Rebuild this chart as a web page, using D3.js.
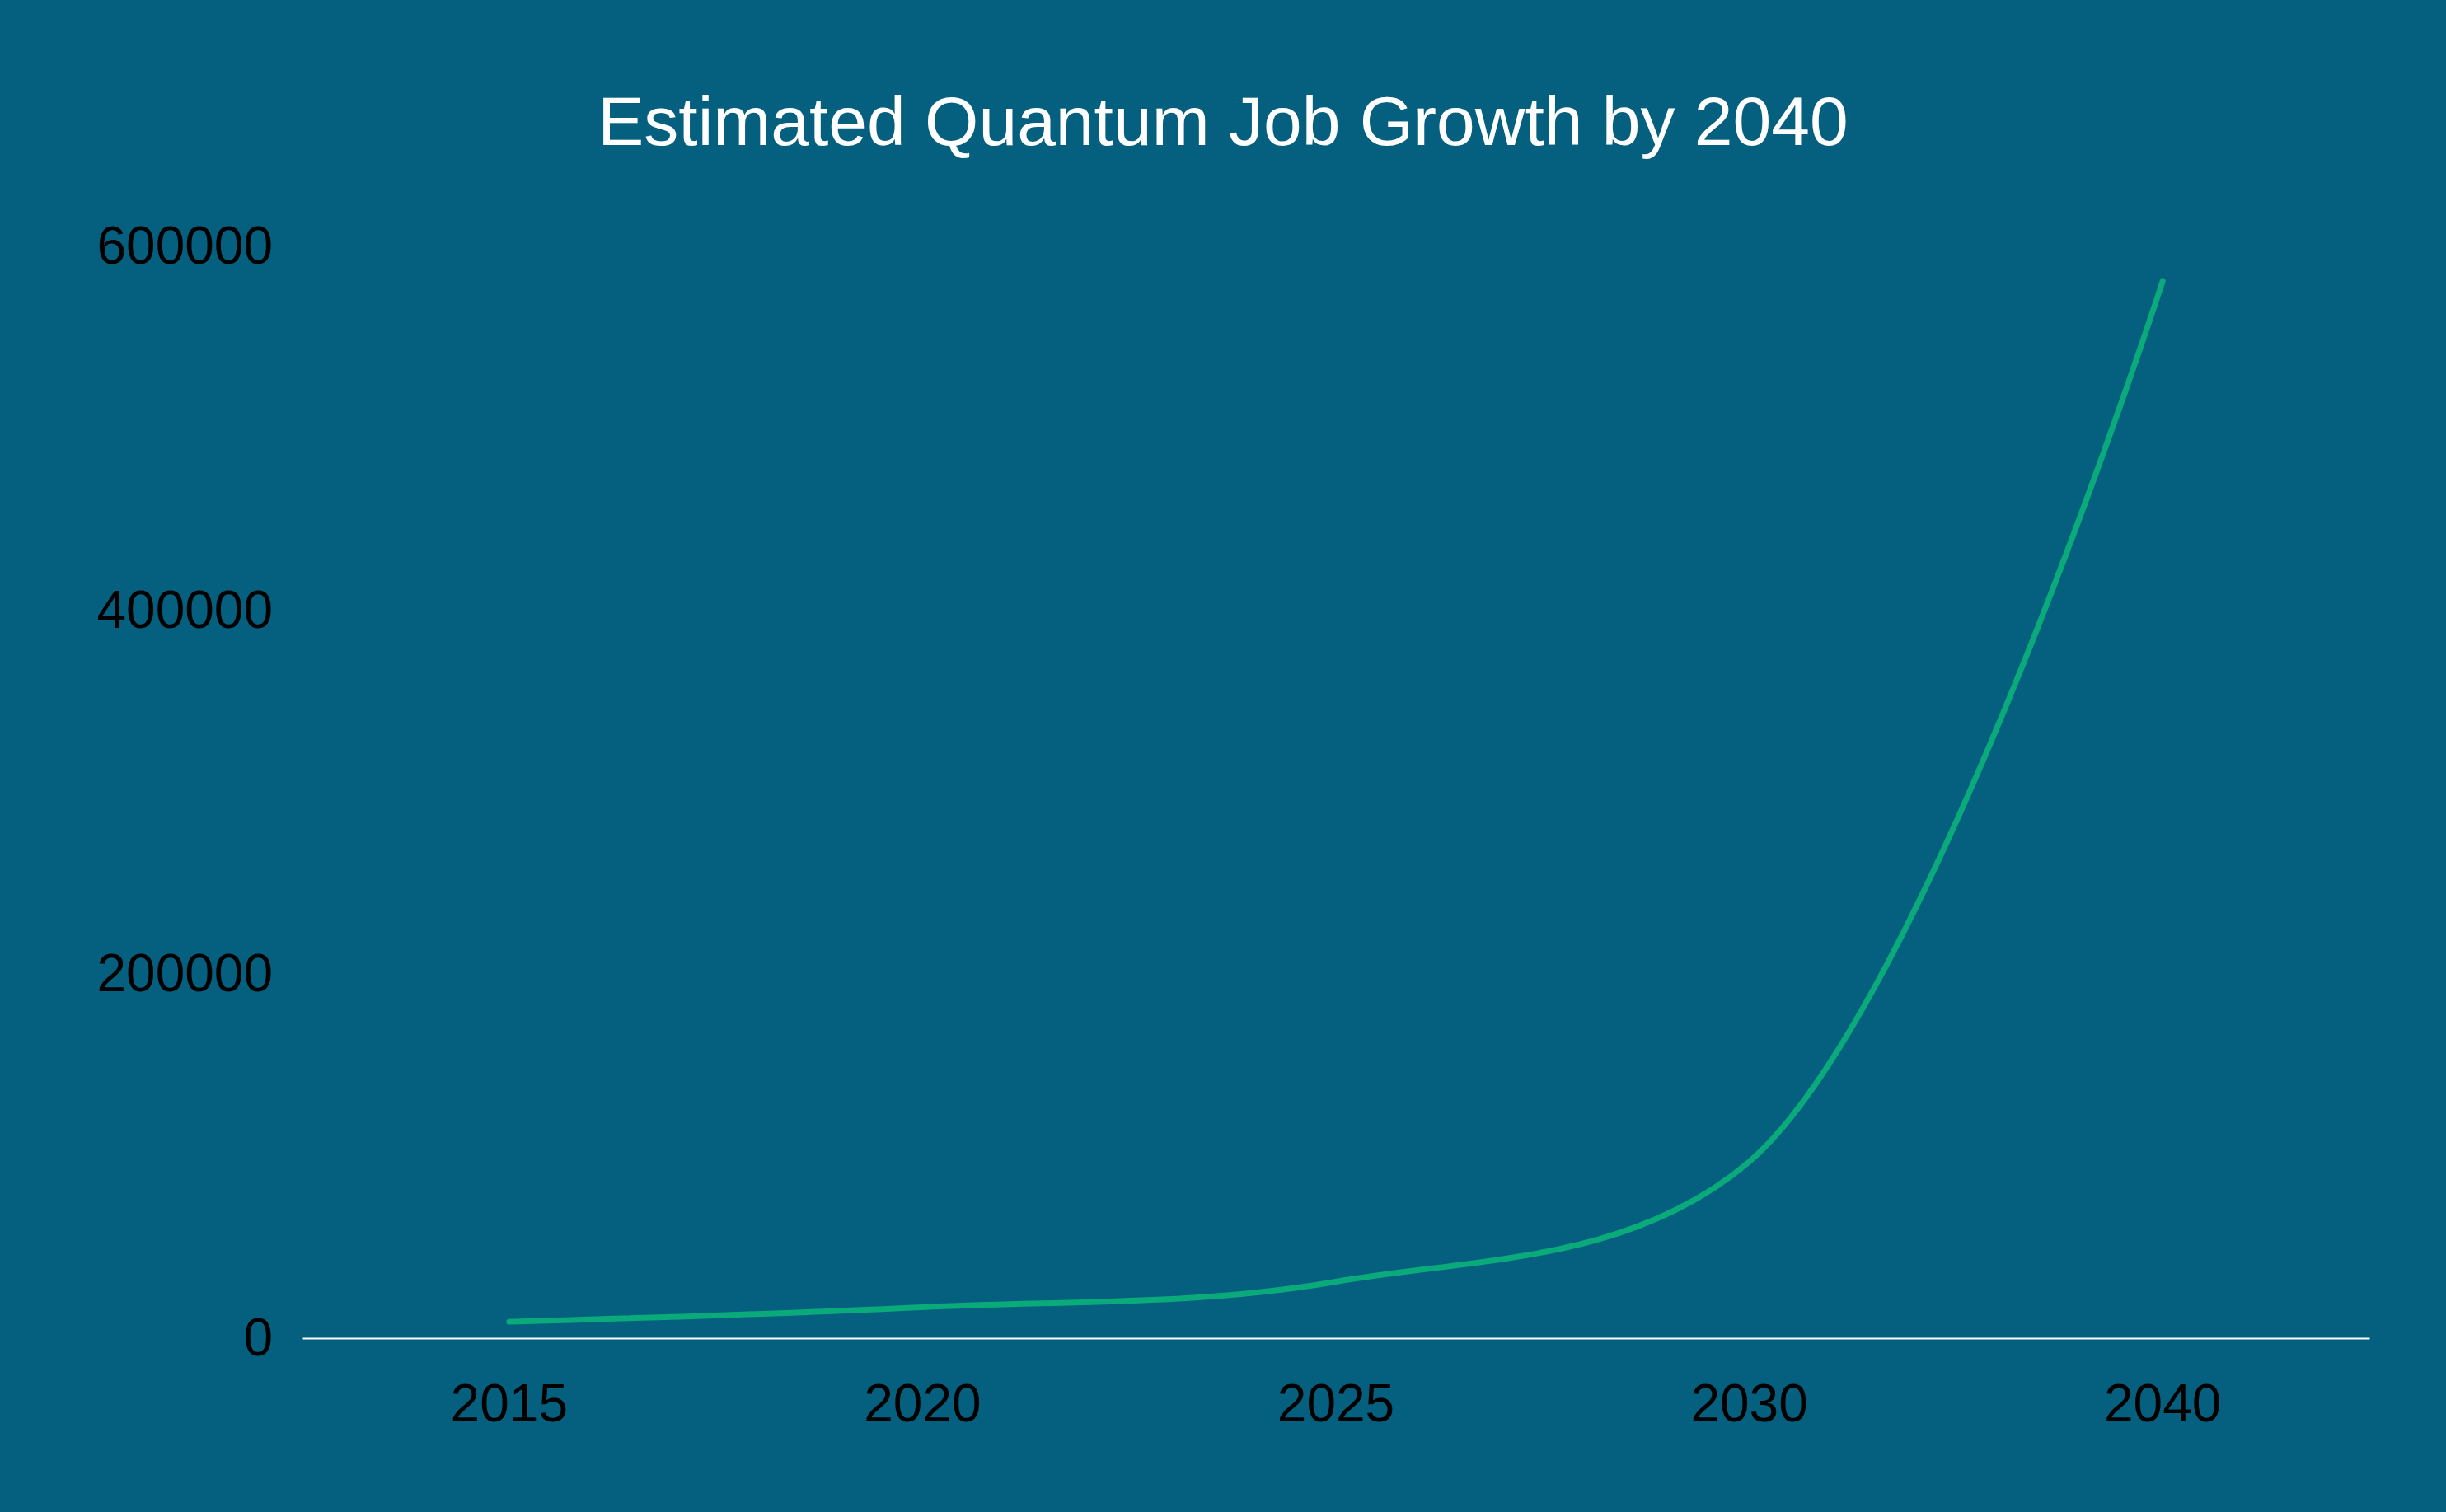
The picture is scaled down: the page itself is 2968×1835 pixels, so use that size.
<!DOCTYPE html>
<html><head><meta charset="utf-8">
<script src="https://cdn.jsdelivr.net/npm/d3@7"></script>
<style>body{margin:0;background:#05607F}svg{display:block}</style>
</head><body>
<script>
const categories = ["2015","2020","2025","2030","2040"];
const jobs = [9000, 17000, 31000, 97000, 581000];
const yTicks = [0, 200000, 400000, 600000];

const W = 2968, H = 1835;
const m = {left:367, right:93, top:299, bottom:211};
const svg = d3.select("body").append("svg").attr("width", W).attr("height", H);
svg.append("rect").attr("width", W).attr("height", H).attr("fill", "#05607F");

const x = d3.scaleBand().domain(categories).range([m.left, W - m.right]);
const y = d3.scaleLinear().domain([0, 600000]).range([H - m.bottom, m.top]);

svg.append("text").attr("x", 1484).attr("y", 176).attr("text-anchor", "middle")
  .attr("fill", "#fff").attr("font-family", "Liberation Sans, Arial, sans-serif")
  .attr("font-size", 84).text("Estimated Quantum Job Growth by 2040");

const ya = svg.append("g").attr("transform", `translate(${m.left},0)`)
  .call(d3.axisLeft(y).tickValues(yTicks).tickSize(0).tickPadding(36).tickFormat(d3.format("d")));
ya.select(".domain").remove();
ya.selectAll("text").attr("fill", "#000").attr("font-size", 64).attr("font-family", "Liberation Sans, Arial, sans-serif");

const xa = svg.append("g").attr("transform", `translate(0,${H - m.bottom})`)
  .call(d3.axisBottom(x).tickSize(0).tickPadding(56));
xa.select(".domain").attr("stroke", "#fff").attr("stroke-width", 2);
xa.selectAll("text").attr("fill", "#000").attr("font-size", 64).attr("font-family", "Liberation Sans, Arial, sans-serif");

const line = d3.line().x((d,i) => x(categories[i]) + x.bandwidth()/2).y(d => y(d))
  .curve(d3.curveCatmullRom.alpha(0.5));
svg.append("path").datum(jobs).attr("d", line).attr("fill", "none")
  .attr("stroke", "#0AAA7A").attr("stroke-width", 7).attr("stroke-linecap", "round");
</script>
</body></html>
